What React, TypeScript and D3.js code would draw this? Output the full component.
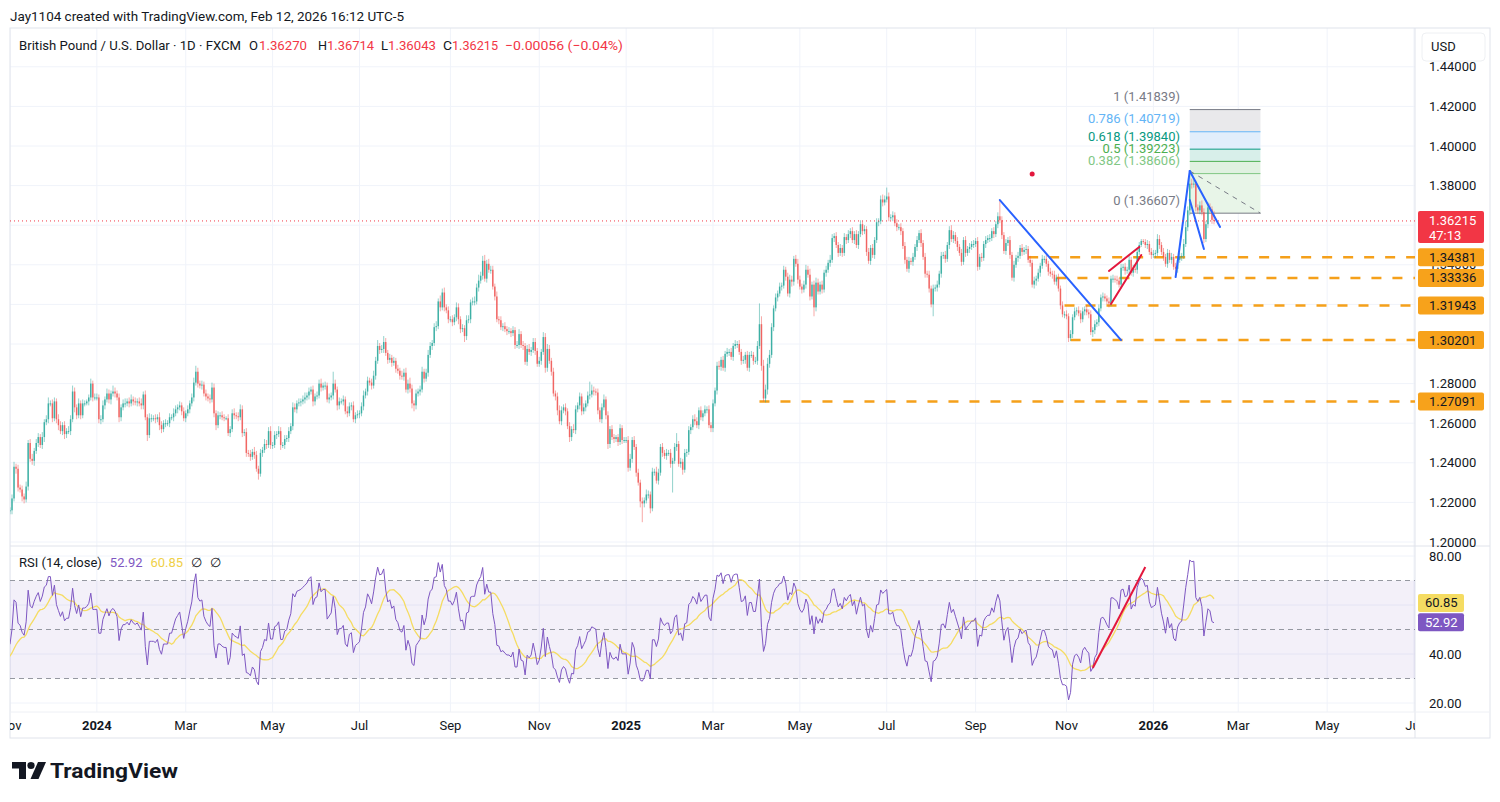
import React from 'react';
import * as d3 from 'd3';

// ---------------- DATA ----------------
// One close per weekday, starting Mon Sep 18 2023
const close2023 = [
  // Sep 18-29
  1.2390, 1.2390, 1.2345, 1.2295, 1.2235, 1.2215, 1.2155, 1.2150, 1.2200, 1.2200,
  // Oct
  1.2075, 1.2095, 1.2150, 1.2190, 1.2240, 1.2235, 1.2270, 1.2290, 1.2180, 1.2135, 1.2185, 1.2185, 1.2145, 1.2165, 1.2160, 1.2245, 1.2140, 1.2105, 1.2070, 1.2130, 1.2155, 1.2155,
  // Nov
  1.2160, 1.2220, 1.2380, 1.2370, 1.2275, 1.2265, 1.2230, 1.2215, 1.2280, 1.2500, 1.2420, 1.2410, 1.2460, 1.2500, 1.2530, 1.2490, 1.2530, 1.2605, 1.2620, 1.2700, 1.2700, 1.2625,
  // Dec
  1.2710, 1.2620, 1.2590, 1.2560, 1.2590, 1.2545, 1.2560, 1.2560, 1.2620, 1.2760, 1.2680, 1.2640, 1.2700, 1.2640, 1.2700, 1.2700, 1.2710, 1.2730, 1.2800, 1.2730, 1.2730,
];
const close2024 = [
  1.2730, 1.2620, 1.2620, 1.2690, 1.2720, 1.2750, 1.2720, 1.2750, 1.2760, 1.2750, 1.2730, 1.2630, 1.2680, 1.2700, 1.2700, 1.2710, 1.2700, 1.2720, 1.2710, 1.2705, 1.2710, 1.2700, 1.2690,
  1.2745, 1.2630, 1.2540, 1.2625, 1.2625, 1.2625, 1.2620, 1.2630, 1.2590, 1.2570, 1.2600, 1.2600, 1.2600, 1.2630, 1.2630, 1.2650, 1.2670, 1.2680, 1.2690, 1.2660, 1.2625,
  1.2650, 1.2670, 1.2700, 1.2730, 1.2805, 1.2860, 1.2800, 1.2790, 1.2795, 1.2750, 1.2735, 1.2725, 1.2720, 1.2780, 1.2650, 1.2590, 1.2640, 1.2640, 1.2630, 1.2625, 1.2625,
  1.2550, 1.2570, 1.2650, 1.2640, 1.2635, 1.2630, 1.2670, 1.2550, 1.2555, 1.2450, 1.2445, 1.2430, 1.2455, 1.2440, 1.2370, 1.2345, 1.2450, 1.2465, 1.2495, 1.2490, 1.2560, 1.2490,
  1.2490, 1.2540, 1.2545, 1.2560, 1.2490, 1.2490, 1.2520, 1.2525, 1.2560, 1.2585, 1.2680, 1.2670, 1.2700, 1.2705, 1.2710, 1.2720, 1.2730, 1.2740, 1.2760, 1.2770, 1.2710, 1.2735, 1.2740,
  1.2800, 1.2780, 1.2790, 1.2790, 1.2720, 1.2730, 1.2740, 1.2800, 1.2770, 1.2690, 1.2710, 1.2710, 1.2720, 1.2660, 1.2650, 1.2685, 1.2690, 1.2620, 1.2640, 1.2645,
  1.2650, 1.2685, 1.2740, 1.2760, 1.2815, 1.2805, 1.2790, 1.2840, 1.2915, 1.2990, 1.2970, 1.2975, 1.3010, 1.2955, 1.2920, 1.2930, 1.2905, 1.2915, 1.2875, 1.2865, 1.2840, 1.2835, 1.2855,
  1.2770, 1.2800, 1.2775, 1.2700, 1.2690, 1.2750, 1.2760, 1.2770, 1.2860, 1.2825, 1.2855, 1.2945, 1.2990, 1.3005, 1.3085, 1.3090, 1.3215, 1.3185, 1.3260, 1.3185, 1.3170, 1.3125,
  1.3125, 1.3110, 1.3135, 1.3185, 1.3125, 1.3075, 1.3080, 1.3040, 1.3120, 1.3125, 1.3210, 1.3215, 1.3215, 1.3285, 1.3320, 1.3345, 1.3420, 1.3330, 1.3405, 1.3375, 1.3375,
  1.3290, 1.3240, 1.3125, 1.3120, 1.3085, 1.3090, 1.3075, 1.3065, 1.3065, 1.3055, 1.3070, 1.2995, 1.2995, 1.3050, 1.2995, 1.2990, 1.2910, 1.2975, 1.2960, 1.2970, 1.3010, 1.2965, 1.2900,
  1.2915, 1.2960, 1.3035, 1.2880, 1.2975, 1.2915, 1.2860, 1.2750, 1.2735, 1.2665, 1.2610, 1.2665, 1.2680, 1.2660, 1.2585, 1.2530, 1.2570, 1.2565, 1.2670, 1.2690, 1.2735,
  1.2660, 1.2680, 1.2700, 1.2740, 1.2745, 1.2765, 1.2760, 1.2755, 1.2665, 1.2620, 1.2680, 1.2720, 1.2640, 1.2495, 1.2570, 1.2530, 1.2520, 1.2530, 1.2505, 1.2575, 1.2515, 1.2515,
];
const close2025 = [
  1.2515, 1.2375, 1.2420, 1.2515, 1.2480, 1.2350, 1.2300, 1.2205, 1.2195, 1.2210, 1.2240, 1.2240, 1.2170, 1.2355, 1.2355, 1.2310, 1.2350, 1.2480, 1.2450, 1.2435, 1.2450, 1.2450, 1.2395,
  1.2410, 1.2480, 1.2495, 1.2395, 1.2405, 1.2365, 1.2450, 1.2455, 1.2565, 1.2580, 1.2620, 1.2610, 1.2590, 1.2665, 1.2630, 1.2650, 1.2670, 1.2670, 1.2590, 1.2575,
  1.2700, 1.2765, 1.2890, 1.2885, 1.2920, 1.2880, 1.2950, 1.2960, 1.2960, 1.2935, 1.2990, 1.3000, 1.3000, 1.2960, 1.2915, 1.2920, 1.2945, 1.2880, 1.2945, 1.2945, 1.2915,
  1.2915, 1.2990, 1.3100, 1.2890, 1.2725, 1.2770, 1.2900, 1.2945, 1.3085, 1.3180, 1.3235, 1.3255, 1.3290, 1.3295, 1.3375, 1.3340, 1.3255, 1.3325, 1.3315, 1.3430, 1.3405, 1.3325,
  1.3290, 1.3275, 1.3300, 1.3375, 1.3350, 1.3240, 1.3300, 1.3185, 1.3310, 1.3265, 1.3300, 1.3275, 1.3360, 1.3375, 1.3410, 1.3425, 1.3535, 1.3545, 1.3500, 1.3460, 1.3485, 1.3460,
  1.3540, 1.3525, 1.3555, 1.3570, 1.3525, 1.3555, 1.3500, 1.3555, 1.3605, 1.3570, 1.3580, 1.3465, 1.3420, 1.3485, 1.3450, 1.3525, 1.3615, 1.3620, 1.3730, 1.3715, 1.3730,
  1.3745, 1.3640, 1.3640, 1.3650, 1.3610, 1.3590, 1.3590, 1.3570, 1.3495, 1.3425, 1.3380, 1.3420, 1.3415, 1.3440, 1.3490, 1.3525, 1.3560, 1.3510, 1.3440, 1.3355, 1.3350, 1.3280, 1.3200,
  1.3280, 1.3285, 1.3300, 1.3355, 1.3445, 1.3450, 1.3430, 1.3500, 1.3575, 1.3530, 1.3550, 1.3520, 1.3490, 1.3460, 1.3415, 1.3525, 1.3460, 1.3480, 1.3490, 1.3505, 1.3505,
  1.3520, 1.3390, 1.3440, 1.3435, 1.3505, 1.3525, 1.3535, 1.3535, 1.3570, 1.3555, 1.3605, 1.3645, 1.3625, 1.3550, 1.3470, 1.3510, 1.3525, 1.3450, 1.3335, 1.3400, 1.3435, 1.3445,
  1.3485, 1.3465, 1.3475, 1.3480, 1.3425, 1.3410, 1.3300, 1.3320, 1.3330, 1.3360, 1.3395, 1.3430, 1.3430, 1.3405, 1.3365, 1.3355, 1.3350, 1.3315, 1.3335, 1.3280, 1.3195, 1.3150, 1.3150,
  1.3140, 1.3030, 1.3050, 1.3135, 1.3165, 1.3170, 1.3155, 1.3125, 1.3165, 1.3175, 1.3160, 1.3150, 1.3060, 1.3070, 1.3100, 1.3110, 1.3180, 1.3235, 1.3240, 1.3230,
  1.3215, 1.3205, 1.3330, 1.3330, 1.3325, 1.3320, 1.3300, 1.3385, 1.3390, 1.3370, 1.3375, 1.3425, 1.3360, 1.3380, 1.3375, 1.3465, 1.3500, 1.3520, 1.3515, 1.3500, 1.3505, 1.3465, 1.3450,
];
const close2026 = [
  1.3455, 1.3460, 1.3530, 1.3500, 1.3465, 1.3440, 1.3405, 1.3460, 1.3425, 1.3440, 1.3390, 1.3380, 1.3425, 1.3440, 1.3445, 1.3505, 1.3590, 1.3675, 1.3810, 1.3805, 1.3810, 1.3690,
  1.3675, 1.3700, 1.3665, 1.3530, 1.3605, 1.3690, 1.3680, 1.3627, 1.36215,
];

// Wicks above / below the body, in units of 0.0005
const wickUnit = 0.0005;
const wickUp2023 = [4,3,5,3,4,3,4,3,5,4, 3,4,5,4,6,3,5,4,3,4,5,3,4,3,6,5,3,4,3,5,4,3, 3,4,5,3,4,3,4,3,5,3,4,5,3,4,4,3,5,3,4,6,3,4, 4,3,5,4,3,4,3,5,4,6,4,3,5,3,4,3,2,3,5,3,4];
const wickDn2023 = [3,4,3,5,4,3,5,4,3,4, 4,3,4,3,3,5,3,4,5,3,4,3,5,4,3,4,5,3,4,3,3,4, 3,4,3,5,4,3,5,4,3,4,3,4,5,3,4,3,4,5,3,4,3,4, 3,4,5,3,4,5,4,3,4,3,5,4,3,4,3,3,2,4,3,4,3];
const wickUp2024 = [
  4,3,4,5,3,5,4,3,6,4,3,4,3,4,5,3,4,5,3,4,3,4,5,
  3,4,3,5,4,3,4,3,5,4,3,4,3,4,3,5,4,3,4,3,4,
  3,4,3,4,5,6,4,3,4,3,4,3,4,5,4,3,4,3,4,3,2,
  4,3,4,5,3,4,5,4,3,4,3,4,3,5,4,3,4,3,5,4,4,5,
  3,4,3,5,4,3,4,3,4,3,5,4,3,4,3,4,5,3,4,3,4,3,4,
  4,5,3,4,3,4,3,12,4,3,4,3,4,3,5,4,3,4,3,4,
  3,4,5,3,4,3,4,5,4,6,3,4,6,4,3,4,3,4,3,4,3,5,4,
  5,4,6,4,3,4,3,4,5,3,4,5,4,3,4,5,3,6,4,5,3,4,
  3,4,3,5,4,3,4,3,5,4,3,4,5,4,6,4,5,6,4,5,4,
  4,3,5,3,4,3,4,3,4,3,4,3,4,5,3,4,3,4,5,3,4,4,3,
  4,3,5,4,5,4,3,4,3,4,5,4,3,4,3,4,3,5,4,3,4,
  3,4,3,4,13,6,4,3,4,3,4,5,3,4,3,4,3,2,3,4,3,3,
];
const wickDn2024 = [
  3,4,5,3,4,3,4,5,3,4,3,5,4,3,4,3,4,3,4,3,4,3,4,
  4,3,6,3,4,3,4,3,5,4,3,4,3,4,3,4,3,4,3,4,3,
  4,3,4,3,4,3,4,3,4,3,4,3,4,3,4,5,3,4,3,3,2,
  3,4,3,4,3,4,3,4,3,4,3,4,3,4,3,6,3,4,3,4,3,4,
  4,3,4,3,5,3,4,3,4,3,4,3,4,3,4,3,4,3,4,3,5,4,3,
  3,4,3,4,3,4,3,4,3,5,4,3,4,3,4,3,4,3,4,3,
  4,3,4,3,4,3,4,3,4,3,4,3,4,3,4,3,4,3,4,3,4,3,4,
  3,4,4,5,6,4,3,4,3,4,3,4,3,4,3,4,3,4,3,4,3,4,
  3,4,3,4,5,4,3,6,4,3,4,3,4,3,4,3,4,3,4,3,4,
  3,4,3,4,3,4,3,4,3,4,3,4,3,4,3,4,3,4,3,4,3,4,3,
  3,4,3,5,4,3,4,3,4,5,3,4,3,4,3,5,4,3,4,3,4,
  4,3,4,3,4,3,4,3,4,3,4,3,4,5,4,3,4,3,4,3,4,3,
];
const wickUp2025 = [
  3,4,5,3,4,3,4,3,4,3,5,4,3,4,3,5,4,3,4,3,4,3,4,
  3,4,11,3,4,3,4,3,4,3,4,5,4,3,4,3,4,3,4,3,
  4,3,4,5,3,4,3,4,3,4,3,4,3,4,3,4,3,4,3,4,3,
  4,5,21,8,6,5,6,5,4,3,4,3,4,3,4,3,4,5,4,3,4,5,
  4,3,4,5,4,6,3,4,5,4,3,4,3,4,3,5,4,3,4,3,4,3,
  4,3,4,3,4,3,4,3,4,3,4,3,4,3,4,3,4,3,4,5,4,
  9,4,3,4,3,4,3,4,3,4,3,4,3,4,3,4,3,4,3,4,3,4,3,
  4,3,4,3,4,3,4,3,4,5,4,3,4,3,4,3,4,3,4,3,4,
  3,4,3,4,3,4,3,4,3,4,3,4,16,4,3,4,3,4,3,4,3,4,
  3,4,3,4,3,4,3,4,3,4,3,4,3,4,3,4,3,4,3,4,3,4,3,
  4,3,4,3,4,3,4,3,4,3,4,3,4,3,4,3,4,3,4,3,
  3,4,3,4,3,4,3,4,3,4,3,4,3,4,3,4,3,2,2,3,4,3,4,
];
const wickDn2025 = [
  3,4,3,4,3,4,3,6,19,4,3,4,5,3,4,3,4,3,4,3,4,3,4,
  29,3,4,3,4,5,3,4,3,4,3,4,3,4,3,4,3,4,3,4,
  4,3,4,3,4,3,4,3,4,3,4,3,4,3,4,3,4,3,4,3,4,
  3,4,3,5,3,4,5,4,3,4,3,4,3,4,3,4,3,4,5,4,3,4,
  3,4,3,4,3,4,3,9,4,3,3,4,3,4,3,4,3,4,3,4,3,4,
  3,4,3,4,3,4,3,4,3,4,3,4,3,4,3,4,3,4,3,4,3,
  3,4,3,4,3,4,3,4,3,4,3,4,3,4,3,4,3,4,3,4,3,4,3,
  12,3,4,3,4,3,4,3,4,3,4,3,4,3,4,3,4,3,4,3,4,
  3,4,3,4,3,4,3,4,3,4,3,4,3,4,3,4,3,4,3,4,3,4,
  3,4,3,4,3,4,3,4,5,3,4,3,4,3,4,3,4,3,4,3,4,3,4,
  3,4,3,4,3,4,3,4,3,4,3,4,3,5,4,3,4,3,4,3,
  3,4,3,4,3,4,3,4,3,4,3,4,3,4,3,4,3,2,2,3,4,3,4,
];
const wickUp2026 = [4,3,5,4,3,4,3,4,3,4,3,4,3,4,3,5,6,4,12,5,4,3, 3,4,5,4,3,5,4,3,9];
const wickDn2026 = [3,4,3,4,3,4,3,4,3,4,3,7,4,3,4,3,3,4,5,4,3,4, 3,4,3,4,3,4,3,4,3.4];

// Price axis ticks and horizontal levels drawn on the chart
const priceTicks = [1.20, 1.22, 1.24, 1.26, 1.28, 1.30, 1.32, 1.34, 1.36, 1.38, 1.40, 1.42, 1.44];
const rsiTicks = [20, 40, 60, 80];
const rsiBands = [70, 50, 30];
const lastClose = 1.36215;
const countdown = '47:13';
const rsiLast = 52.92;
const rsiMaLast = 60.85;
const supportLevels = [1.34381, 1.33336, 1.31943, 1.30201, 1.27091];
const supportStart = ['2025-10-07', '2025-10-27', '2025-10-31', '2025-11-05', '2025-04-03'];
const fibRatios = [1, 0.786, 0.618, 0.5, 0.382, 0];
const fibPrices = [1.41839, 1.40719, 1.39840, 1.39223, 1.38606, 1.36607];
const fibColors = ['#787B86', '#64B5F6', '#089981', '#4CAF50', '#81C784', '#787B86'];
const fibFills = ['#E9E9EB', '#E1EEFB', '#D8EFEA', '#E0F1E1', '#E8F5E8'];
const fibFrom = '2026-01-27';
const fibTo = '2026-03-17';
const fibAnchor = 1.3874;
const trendLines = [
  { a: ['2025-09-17', 1.3727], b: ['2025-12-10', 1.3020], color: '#2962FF' },
  { a: ['2025-12-02', 1.3369], b: ['2025-12-23', 1.3490], color: '#E3173D' },
  { a: ['2025-12-03', 1.3202], b: ['2025-12-24', 1.3449], color: '#E3173D' },
  { a: ['2026-01-16', 1.3338], b: ['2026-01-27', 1.3874], color: '#2962FF' },
  { a: ['2026-01-27', 1.3727], b: ['2026-02-05', 1.3480], color: '#2962FF' },
  { a: ['2026-01-27', 1.3874], b: ['2026-02-17', 1.3591], color: '#2962FF' },
];
const redDot = ['2025-10-09', 1.3859];
const rsiTrend = { a: ['2025-11-20', 34.3], b: ['2025-12-26', 75.5] };

// ---------------- HELPERS ----------------
function computeRsi(c: number[], n: number) {
  const out = new Array(c.length).fill(NaN);
  let g = 0, l = 0;
  for (let i = 1; i <= n; i++) { const d = c[i] - c[i - 1]; if (d > 0) g += d; else l -= d; }
  let ag = g / n, al = l / n;
  out[n] = al === 0 ? 100 : 100 - 100 / (1 + ag / al);
  for (let i = n + 1; i < c.length; i++) {
    const d = c[i] - c[i - 1];
    ag = (ag * (n - 1) + Math.max(d, 0)) / n;
    al = (al * (n - 1) + Math.max(-d, 0)) / n;
    out[i] = al === 0 ? 100 : 100 - 100 / (1 + ag / al);
  }
  return out;
}
function sma(v: number[], n: number) {
  return v.map((_, i) => {
    if (i < n - 1) return NaN;
    const s = v.slice(i - n + 1, i + 1);
    if (s.some(isNaN)) return NaN;
    return d3.mean(s) as number;
  });
}

const FONT = "-apple-system, BlinkMacSystemFont, 'Trebuchet MS', Roboto, Ubuntu, sans-serif";
const TXT = '#131722';
const UP = '#26a69a';
const DN = '#ef5350';
const RED = '#F23645';

export default function App() {
  const fmt = d3.timeFormat('%Y-%m-%d');
  const days = d3.timeDay.range(new Date(2023, 8, 18), new Date(2026, 7, 1)).filter(d => d.getDay() % 6 !== 0);
  const idx = new Map<string, number>(days.map((d, i) => [fmt(d), i]));
  const I = (s: string) => idx.get(s) as number;

  const closes = [...close2023, ...close2024, ...close2025, ...close2026];
  const ups = [...wickUp2023, ...wickUp2024, ...wickUp2025, ...wickUp2026];
  const dns = [...wickDn2023, ...wickDn2024, ...wickDn2025, ...wickDn2026];
  const bars = closes.map((c, i) => {
    const o = i > 0 ? closes[i - 1] : c;
    const hi = Math.max(o, c) + (ups[i] ?? 0) * wickUnit;
    const lo = Math.min(o, c) - (dns[i] ?? 0) * wickUnit;
    return { i, o, c, hi, lo };
  });
  const rsi = computeRsi(closes, 14);
  const rsiMa = sma(rsi, 14);

  const x = d3.scaleLinear().domain([I('2023-11-02'), I('2026-02-12')]).range([12, 1214]);
  const y = d3.scaleLinear().domain([1.20, 1.44]).range([542, 66.8]);
  const yr = d3.scaleLinear().domain([20, 80]).range([703, 556]);

  const paneL = 10, paneR = 1415, top = 28, mainB = 546, rsiB = 712, axB = 738, outR = 1490;

  // month ticks (every other month, at first trading day)
  const months = d3.timeMonth.range(new Date(2023, 10, 1), new Date(2026, 7, 1)).filter(m => m.getMonth() % 2 === 0);
  const monthTicks = months.map(m => {
    let d = m;
    while (d.getDay() % 6 === 0) d = d3.timeDay.offset(d, 1);
    const isYear = m.getMonth() === 0;
    return { xp: x(I(fmt(d))), label: isYear ? String(m.getFullYear()) : d3.timeFormat('%b')(m), bold: isYear };
  });

  const rsiLine = d3.line<number>().defined(v => !isNaN(v)).x((_, i) => x(i)).y(v => yr(v));
  const rsiPts = rsi.map((v, i) => (x(i) < 0 ? NaN : v));
  const maPts = rsiMa.map((v, i) => (x(i) < 0 ? NaN : v));

  const fx0 = x(I(fibFrom)), fx1 = x(I(fibTo));

  // axis labels fully hidden behind a value badge are not drawn
  const badgeYs = [...supportLevels, lastClose].map(p => y(p));
  const visiblePriceTicks = priceTicks.filter(p => !badgeYs.some(by => Math.abs(by - y(p)) < 7));
  const visibleRsiTicks = rsiTicks.filter(v => Math.abs(yr(v) - yr(rsiMaLast)) > 9 && Math.abs(yr(v) - yr(rsiLast)) > 9);

  const legendParts = [
    { t: 'O', c: TXT, x0: 249, w: 9 }, { t: '1.36270', c: RED, x0: 259, w: 48 },
    { t: 'H', c: TXT, x0: 318, w: 9 }, { t: '1.36714', c: RED, x0: 327, w: 47 },
    { t: 'L', c: TXT, x0: 381, w: 7 }, { t: '1.36043', c: RED, x0: 388, w: 48 },
    { t: 'C', c: TXT, x0: 443, w: 9 }, { t: '1.36215', c: RED, x0: 452, w: 46 },
    { t: '−0.00056 (−0.04%)', c: RED, x0: 505, w: 118 },
  ];

  return (
    <svg width={1500} height={802} style={{ position: 'absolute', left: 0, top: 0, background: '#fff' }} fontFamily={FONT}>
      <defs>
        <clipPath id="mainClip"><rect x={paneL} y={top} width={paneR - paneL} height={mainB - top} /></clipPath>
        <clipPath id="rsiClip"><rect x={paneL} y={mainB} width={paneR - paneL} height={rsiB - mainB} /></clipPath>
        <clipPath id="axClip"><rect x={paneL} y={rsiB} width={paneR - paneL} height={axB - rsiB} /></clipPath>
      </defs>
      <rect x={0} y={0} width={1500} height={802} fill="#fff" />

      {/* header */}
      <text x={10} y={21} fontSize={13} fill={TXT} textLength={394} lengthAdjust="spacingAndGlyphs">Jay1104 created with TradingView.com, Feb 12, 2026 16:12 UTC-5</text>

      {/* grid main */}
      <g clipPath="url(#mainClip)">
        {priceTicks.map(p => <line key={p} x1={paneL} x2={paneR} y1={y(p)} y2={y(p)} stroke="#F0F3FA" />)}
        {monthTicks.map((t, k) => <line key={k} x1={t.xp} x2={t.xp} y1={top} y2={mainB} stroke="#F0F3FA" />)}
      </g>
      <g clipPath="url(#rsiClip)">
        {rsiTicks.map(v => <line key={v} x1={paneL} x2={paneR} y1={yr(v)} y2={yr(v)} stroke="#F0F3FA" />)}
        {monthTicks.map((t, k) => <line key={k} x1={t.xp} x2={t.xp} y1={mainB} y2={rsiB} stroke="#F0F3FA" />)}
      </g>

      {/* borders */}
      <rect x={paneL} y={top} width={outR - paneL} height={axB - top} fill="none" stroke="#E0E3EB" />
      <line x1={paneR} x2={paneR} y1={top} y2={axB} stroke="#E0E3EB" />
      <line x1={paneL} x2={outR} y1={mainB} y2={mainB} stroke="#E0E3EB" />
      <line x1={paneL} x2={outR} y1={rsiB} y2={rsiB} stroke="#EEF0F5" />

      {/* main pane */}
      <g clipPath="url(#mainClip)">
        {/* fib fills */}
        {fibFills.map((f, k) => (
          <rect key={k} x={fx0} width={fx1 - fx0} y={y(fibPrices[k])} height={y(fibPrices[k + 1]) - y(fibPrices[k])} fill={f} />
        ))}
        {fibPrices.map((p, k) => (
          <line key={k} x1={fx0} x2={fx1} y1={y(p)} y2={y(p)} stroke={fibColors[k]} strokeWidth={1} />
        ))}
        {fibPrices.map((p, k) => (
          <text key={k} x={1180} y={y(p) - 8.5} fontSize={13} textAnchor="end" fill={fibColors[k]}>
            {`${fibRatios[k]} (${p.toFixed(5)})`}
          </text>
        ))}
        <line x1={x(I(fibFrom))} y1={y(fibAnchor)} x2={fx1} y2={y(fibPrices[5])} stroke="#787B86" strokeDasharray="5,5" />

        {/* support levels */}
        {supportLevels.map((p, k) => (
          <line key={k} x1={x(I(supportStart[k]))} x2={paneR} y1={y(p)} y2={y(p)} stroke="#F5A01A" strokeWidth={2.5} strokeDasharray="10,11" />
        ))}

        {/* candles */}
        {bars.map(b => {
          const cx = x(b.i);
          if (cx < 4 || cx > paneR) return null;
          const col = b.c >= b.o ? UP : DN;
          const yt = y(Math.max(b.o, b.c)), yb = y(Math.min(b.o, b.c));
          return (
            <g key={b.i}>
              <line x1={cx} x2={cx} y1={y(b.hi)} y2={y(b.lo)} stroke={col} strokeOpacity={0.5} strokeWidth={1} />
              <rect x={cx - 0.75} width={1.5} y={yt} height={Math.max(1, yb - yt)} fill={col} fillOpacity={0.8} />
            </g>
          );
        })}

        {/* trend lines */}
        {trendLines.map((t, k) => (
          <line key={k} x1={x(I(t.a[0] as string))} y1={y(t.a[1] as number)} x2={x(I(t.b[0] as string))} y2={y(t.b[1] as number)} stroke={t.color} strokeWidth={2} strokeLinecap="round" />
        ))}
        <circle cx={x(I(redDot[0] as string))} cy={y(redDot[1] as number)} r={2.5} fill="#E3173D" />

        {/* last price line */}
        <line x1={paneL} x2={paneR} y1={y(lastClose)} y2={y(lastClose)} stroke={RED} strokeWidth={1} strokeDasharray="1,3" />
      </g>

      {/* legend main */}
      <text x={19} y={50} fontSize={13.5} fill={TXT} textLength={222} lengthAdjust="spacingAndGlyphs">British Pound / U.S. Dollar · 1D · FXCM</text>
      {legendParts.map((p, k) => (
        <text key={k} x={p.x0} y={50} fontSize={13.5} fill={p.c} textLength={p.w} lengthAdjust="spacingAndGlyphs">{p.t}</text>
      ))}

      {/* RSI pane */}
      <g clipPath="url(#rsiClip)">
        <rect x={paneL} width={paneR - paneL} y={yr(70)} height={yr(30) - yr(70)} fill="rgba(126,87,194,0.09)" />
        {rsiBands.map(v => (
          <line key={v} x1={paneL} x2={paneR} y1={yr(v)} y2={yr(v)} stroke="#9598A1" strokeDasharray="5,4" strokeWidth={1} />
        ))}
        <path d={rsiLine(maPts) || ''} fill="none" stroke="#F5DC62" strokeWidth={1.3} />
        <path d={rsiLine(rsiPts) || ''} fill="none" stroke="#7E57C2" strokeWidth={1} />
        <line x1={x(I(rsiTrend.a[0] as string))} y1={yr(rsiTrend.a[1] as number)} x2={x(I(rsiTrend.b[0] as string))} y2={yr(rsiTrend.b[1] as number)} stroke="#E3173D" strokeWidth={2} />
      </g>
      <text x={19} y={567} fontSize={13} fill={TXT}>
        RSI (14, close)<tspan dx={8} fill="#7E57C2">{rsiLast.toFixed(2)}</tspan>
        <tspan dx={8} fill="#EFD048">{rsiMaLast.toFixed(2)}</tspan>
        <tspan dx={8}>∅</tspan><tspan dx={8}>∅</tspan>
      </text>

      {/* time axis */}
      <g clipPath="url(#axClip)">
        {monthTicks.map((t, k) => (
          <text key={k} x={t.xp} y={730} fontSize={13} textAnchor="middle" fill={TXT} fontWeight={t.bold ? 700 : 400}>{t.label}</text>
        ))}
      </g>

      {/* price axis labels */}
      {visiblePriceTicks.map(p => (
        <text key={p} x={1429} y={y(p) + 4.5} fontSize={13} fill={TXT}>{p.toFixed(5)}</text>
      ))}
      {visibleRsiTicks.map(v => (
        <text key={v} x={1429} y={yr(v) + 4.5} fontSize={13} fill={TXT}>{v.toFixed(2)}</text>
      ))}

      {/* USD button */}
      <rect x={1422} y={33} width={63} height={28} rx={4} fill="#fff" stroke="#EEF0F3" />
      <text x={1431} y={51} fontSize={13} fill={TXT}>USD</text>

      {/* level labels */}
      {supportLevels.map((p, k) => (
        <g key={k}>
          <rect x={1418} y={y(p) - 9} width={66} height={18} rx={2} fill="#F7A21B" />
          <text x={1429} y={y(p) + 4.5} fontSize={13} fill={TXT}>{p.toFixed(5)}</text>
        </g>
      ))}
      <rect x={1418} y={y(lastClose) - 10} width={66} height={32} rx={2} fill={RED} />
      <text x={1429} y={y(lastClose) + 4.5} fontSize={13} fill="#fff">{lastClose.toFixed(5)}</text>
      <text x={1429} y={y(lastClose) + 19} fontSize={13} fill="#fff">{countdown}</text>

      <rect x={1418} y={yr(rsiMaLast) - 9} width={46} height={18} rx={2} fill="#F5DC62" />
      <text x={1425} y={yr(rsiMaLast) + 4.5} fontSize={13} fill={TXT}>{rsiMaLast.toFixed(2)}</text>
      <rect x={1418} y={yr(rsiLast) - 9} width={46} height={18} rx={2} fill="#7E57C2" />
      <text x={1425} y={yr(rsiLast) + 4.5} fontSize={13} fill="#fff">{rsiLast.toFixed(2)}</text>

      {/* logo */}
      <g fill={TXT}>
        <path d="M12 762 H26 V779 H19 V768.5 H12 Z" />
        <circle cx={31} cy={765.5} r={3.6} />
        <path d="M38 762 H46 L38.5 779 H30.5 Z" />
        <text x={50} y={778} fontSize={21} fontWeight={700} textLength={128} lengthAdjust="spacingAndGlyphs">TradingView</text>
      </g>
    </svg>
  );
}
